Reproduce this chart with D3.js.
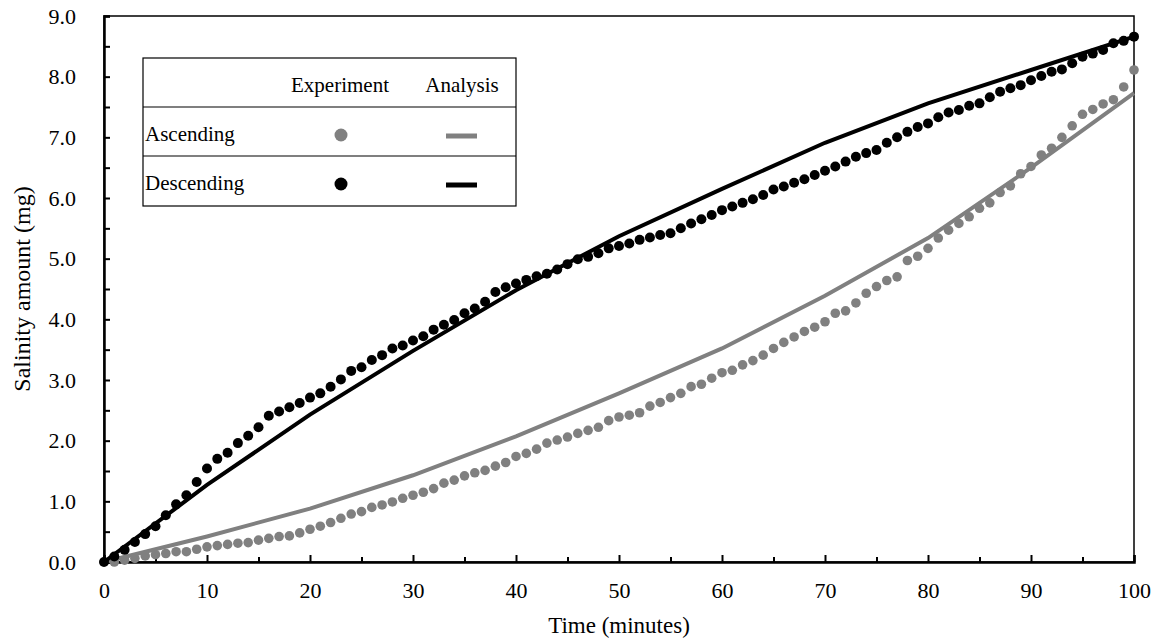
<!DOCTYPE html>
<html>
<head>
<meta charset="utf-8">
<script src="https://cdn.jsdelivr.net/npm/d3@7"></script>
<style>
  body { margin: 0; background: #fff; }
  svg text { font-family: "Times New Roman", "Liberation Serif", "DejaVu Serif", serif !important; fill: #000; }
</style>
</head>
<body>
<div id="chart"></div>
<script>
// experiment readings, one per minute
var descTime = d3.range(0, 101);
var descExp = [0.00, 0.09, 0.20, 0.33, 0.46, 0.59, 0.77, 0.95, 1.10, 1.32,
  1.54, 1.70, 1.80, 1.96, 2.08, 2.22, 2.41, 2.48, 2.55, 2.62,
  2.71, 2.78, 2.89, 3.01, 3.15, 3.21, 3.33, 3.41, 3.52, 3.57,
  3.65, 3.72, 3.83, 3.91, 3.99, 4.10, 4.18, 4.29, 4.45, 4.53,
  4.59, 4.65, 4.71, 4.75, 4.82, 4.91, 4.99, 5.03, 5.09, 5.17,
  5.21, 5.25, 5.31, 5.35, 5.39, 5.42, 5.50, 5.58, 5.65, 5.72,
  5.80, 5.86, 5.92, 5.98, 6.05, 6.14, 6.19, 6.25, 6.31, 6.38,
  6.45, 6.52, 6.60, 6.68, 6.74, 6.79, 6.91, 7.00, 7.09, 7.17,
  7.23, 7.33, 7.41, 7.45, 7.52, 7.56, 7.66, 7.75, 7.81, 7.86,
  7.94, 8.01, 8.08, 8.12, 8.22, 8.33, 8.38, 8.44, 8.55, 8.59,
  8.66];

var ascTime = d3.range(1, 101);
var ascExp = [0.00, 0.03, 0.06, 0.10, 0.12, 0.14, 0.17, 0.17, 0.21,
  0.25, 0.27, 0.29, 0.31, 0.32, 0.36, 0.39, 0.42, 0.43, 0.48,
  0.54, 0.59, 0.65, 0.72, 0.79, 0.83, 0.90, 0.94, 0.99, 1.05,
  1.10, 1.15, 1.21, 1.30, 1.35, 1.42, 1.47, 1.51, 1.58, 1.64,
  1.74, 1.79, 1.86, 1.96, 2.01, 2.06, 2.12, 2.17, 2.22, 2.33,
  2.39, 2.42, 2.46, 2.57, 2.63, 2.71, 2.78, 2.89, 2.93, 3.03,
  3.12, 3.16, 3.25, 3.32, 3.41, 3.52, 3.62, 3.71, 3.80, 3.87,
  3.96, 4.10, 4.14, 4.27, 4.43, 4.54, 4.64, 4.70, 4.97, 5.04,
  5.17, 5.34, 5.47, 5.58, 5.69, 5.83, 5.92, 6.09, 6.20, 6.40,
  6.52, 6.71, 6.82, 7.00, 7.19, 7.38, 7.46, 7.55, 7.62, 7.83,
  8.11];

// analysis curves, every 10 minutes
var anTime = [0, 10, 20, 30, 40, 50, 60, 70, 80, 90, 100];
var descAn = [0, 1.27, 2.43, 3.48, 4.48, 5.37, 6.15, 6.91, 7.56, 8.11, 8.66];
var ascAn = [0, 0.42, 0.88, 1.43, 2.07, 2.78, 3.52, 4.39, 5.34, 6.50, 7.73];

var xTicks = d3.range(0, 101, 10);
var yTicks = d3.range(0, 9.01, 1);

var serif = "'Times New Roman', 'Liberation Serif', 'DejaVu Serif', serif";

var svgWidth = 1159, svgHeight = 641;
var margin = { top: 16, right: 25, bottom: 79, left: 104 };
var width = svgWidth - margin.left - margin.right;
var height = svgHeight - margin.top - margin.bottom;

var svg = d3.select("#chart").append("svg")
    .attr("width", svgWidth)
    .attr("height", svgHeight)
    .attr("font-family", serif);

var chartGroup = svg.append("g")
    .attr("transform", `translate(${margin.left}, ${margin.top})`);

var x = d3.scaleLinear().domain([0, 100]).range([0, width]);
var y = d3.scaleLinear().domain([0, 9]).range([height, 0]);

// frame
chartGroup.append("rect")
    .attr("width", width).attr("height", height)
    .attr("fill", "none").attr("stroke", "#000").attr("stroke-width", 1.5);

// x axis: ticks inside, minor every 5
var xMinor = chartGroup.append("g")
    .attr("transform", `translate(0, ${height})`)
    .call(d3.axisBottom(x).tickValues(d3.range(5, 100, 10)).tickSize(-5).tickFormat(""));
xMinor.select(".domain").remove();
xMinor.selectAll("line").attr("stroke-width", 2);

var xAxis = chartGroup.append("g")
    .attr("transform", `translate(0, ${height})`)
    .call(d3.axisBottom(x).tickValues(xTicks).tickSize(-7).tickPadding(20).tickFormat(d3.format("d")));
xAxis.attr("font-family", serif).attr("font-size", 22);
xAxis.select(".domain").attr("stroke-width", 2.5);
xAxis.selectAll("line").attr("stroke-width", 2);

var yMinor = chartGroup.append("g")
    .call(d3.axisLeft(y).tickValues(d3.range(0.5, 9, 1)).tickSize(-6).tickFormat(""));
yMinor.select(".domain").remove();
yMinor.selectAll("line").attr("stroke-width", 2);

var yAxis = chartGroup.append("g")
    .call(d3.axisLeft(y).tickValues(yTicks).tickSize(-6).tickPadding(28).tickFormat(d3.format(".1f")));
yAxis.attr("font-family", serif).attr("font-size", 22);
yAxis.select(".domain").attr("stroke-width", 2.5);
yAxis.selectAll("line").attr("stroke-width", 2);

// analysis lines
var line = d3.line().x(d => x(d[0])).y(d => y(d[1]));

chartGroup.append("path")
    .datum(anTime.map((t, i) => [t, ascAn[i]]))
    .attr("d", line)
    .attr("fill", "none").attr("stroke", "#808080").attr("stroke-width", 4);

chartGroup.append("path")
    .datum(anTime.map((t, i) => [t, descAn[i]]))
    .attr("d", line)
    .attr("fill", "none").attr("stroke", "#000").attr("stroke-width", 4);

// experiment dots
chartGroup.append("g").selectAll("circle")
    .data(ascTime.map((t, i) => [t, ascExp[i]]))
    .enter().append("circle")
    .attr("cx", d => x(d[0])).attr("cy", d => y(d[1]))
    .attr("r", 4.8).attr("fill", "#808080");

chartGroup.append("g").selectAll("circle")
    .data(descTime.map((t, i) => [t, descExp[i]]))
    .enter().append("circle")
    .attr("cx", d => x(d[0])).attr("cy", d => y(d[1]))
    .attr("r", 5).attr("fill", "#000");

// legend table
var legend = svg.append("g").attr("font-size", 21);
legend.append("rect")
    .attr("x", 143).attr("y", 58).attr("width", 373).attr("height", 148)
    .attr("fill", "#fff").attr("stroke", "#000").attr("stroke-width", 1.2);
[107, 156].forEach(function (ly) {
    legend.append("line")
        .attr("x1", 143).attr("x2", 516).attr("y1", ly).attr("y2", ly)
        .attr("stroke", "#000").attr("stroke-width", 1.2);
});
legend.append("text").attr("x", 340).attr("y", 92).attr("text-anchor", "middle")
    .text("Experiment");
legend.append("text").attr("x", 462).attr("y", 92).attr("text-anchor", "middle")
    .text("Analysis");

var legendRows = [
    { label: "Ascending", color: "#808080", cy: 135 },
    { label: "Descending", color: "#000", cy: 184 }
];
legendRows.forEach(function (r) {
    legend.append("text").attr("x", 145).attr("y", r.cy + 6)
        .text(r.label);
    legend.append("circle").attr("cx", 341).attr("cy", r.cy).attr("r", 6.5).attr("fill", r.color);
    legend.append("line").attr("x1", 446).attr("x2", 477).attr("y1", r.cy + 1).attr("y2", r.cy + 1)
        .attr("stroke", r.color).attr("stroke-width", 5);
});

// axis titles
svg.append("text")
    .attr("x", margin.left + width / 2).attr("y", 633)
    .attr("text-anchor", "middle").attr("font-size", 23)
    .text("Time (minutes)");

svg.append("text")
    .attr("transform", `translate(30, ${margin.top + height / 2}) rotate(-90)`)
    .attr("text-anchor", "middle").attr("font-size", 24)
    .text("Salinity amount (mg)");
</script>
</body>
</html>
